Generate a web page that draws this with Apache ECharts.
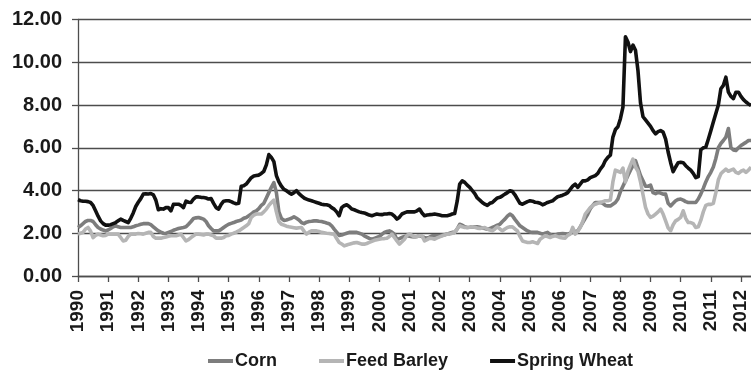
<!DOCTYPE html>
<html>
<head>
<meta charset="utf-8">
<script src="https://cdn.jsdelivr.net/npm/echarts@6/dist/echarts.min.js"></script>
<style>
  html, body { margin: 0; padding: 0; background: #fff; }
  #chart { width: 751px; height: 375px; }
</style>
</head>
<body>
<div id="chart"></div>
<script>
// Monthly prices, January 1990 through May 2012 (one row per year)
const startYear = 1990;
const lastYear = 2012;
const monthsInLastYear = 5;

const corn = [
  2.27, 2.35, 2.45, 2.55, 2.60, 2.60, 2.55, 2.40, 2.27, 2.20, 2.15, 2.11,
  2.15, 2.22, 2.30, 2.35, 2.30, 2.27, 2.27, 2.27, 2.27, 2.27, 2.30, 2.35,
  2.38, 2.42, 2.45, 2.45, 2.45, 2.40, 2.30, 2.20, 2.11, 2.05, 2.00, 1.99,
  2.04, 2.08, 2.14, 2.18, 2.22, 2.25, 2.27, 2.30, 2.42, 2.55, 2.69, 2.72,
  2.74, 2.70, 2.66, 2.55, 2.35, 2.22, 2.11, 2.11, 2.11, 2.18, 2.27, 2.35,
  2.42, 2.46, 2.50, 2.55, 2.58, 2.62, 2.70, 2.74, 2.82, 2.90, 3.00, 3.05,
  3.15, 3.30, 3.40, 3.65, 3.90, 4.15, 4.37, 3.90, 3.00, 2.70, 2.60, 2.62,
  2.66, 2.70, 2.77, 2.70, 2.62, 2.50, 2.45, 2.52, 2.55, 2.56, 2.58, 2.58,
  2.56, 2.55, 2.52, 2.48, 2.45, 2.35, 2.19, 2.05, 1.90, 1.92, 1.96, 2.00,
  2.04, 2.04, 2.04, 2.04, 2.00, 1.96, 1.88, 1.82, 1.76, 1.72, 1.76, 1.80,
  1.85, 1.95, 2.04, 2.08, 2.11, 2.05, 1.96, 1.70, 1.75, 1.80, 1.85, 1.88,
  1.86, 1.84, 1.83, 1.85, 1.88, 1.84, 1.80, 1.77, 1.82, 1.88, 1.88, 1.88,
  1.88, 1.90, 1.93, 1.96, 2.00, 2.04, 2.04, 2.20, 2.42, 2.38, 2.30, 2.27,
  2.28, 2.30, 2.30, 2.30, 2.28, 2.25, 2.22, 2.19, 2.22, 2.27, 2.32, 2.38,
  2.42, 2.55, 2.66, 2.80, 2.90, 2.82, 2.65, 2.50, 2.35, 2.27, 2.19, 2.11,
  2.06, 2.04, 2.04, 2.04, 2.00, 1.96, 2.00, 2.04, 1.95, 1.88, 1.92, 1.96,
  1.98, 1.99, 1.98, 1.96, 2.00, 2.04, 2.08, 2.11, 2.30, 2.50, 2.70, 2.90,
  3.15, 3.30, 3.44, 3.44, 3.44, 3.40, 3.30, 3.28, 3.28, 3.36, 3.44, 3.60,
  3.95, 4.20, 4.45, 4.70, 4.95, 5.16, 5.40, 5.05, 4.70, 4.45, 4.20, 4.20,
  4.25, 3.90, 3.85, 3.91, 3.88, 3.83, 3.83, 3.40, 3.28, 3.40, 3.52, 3.58,
  3.60, 3.55, 3.48, 3.44, 3.44, 3.44, 3.44, 3.60, 3.83, 4.10, 4.40, 4.65,
  4.85, 5.10, 5.50, 6.00, 6.20, 6.34, 6.50, 6.90, 6.00, 5.90, 5.87, 6.00,
  6.10, 6.18, 6.25, 6.34, 6.34
];

const feedBarley = [
  1.96, 2.00, 2.04, 2.20, 2.27, 2.10, 1.80, 1.90, 1.96, 1.92, 1.88, 1.90,
  1.96, 1.96, 1.96, 1.96, 1.96, 1.80, 1.64, 1.67, 1.85, 1.96, 1.96, 1.96,
  1.99, 1.98, 1.96, 2.00, 2.04, 2.04, 1.85, 1.77, 1.77, 1.77, 1.80, 1.83,
  1.86, 1.88, 1.88, 1.88, 1.92, 1.96, 1.80, 1.64, 1.70, 1.80, 1.88, 1.96,
  1.96, 1.94, 1.92, 1.96, 1.96, 1.92, 1.88, 1.77, 1.77, 1.77, 1.80, 1.88,
  1.90, 1.96, 2.00, 2.05, 2.11, 2.19, 2.27, 2.35, 2.45, 2.74, 2.85, 2.90,
  2.90, 2.90, 3.00, 3.13, 3.30, 3.44, 3.55, 3.00, 2.55, 2.42, 2.38, 2.33,
  2.30, 2.28, 2.26, 2.24, 2.26, 2.27, 2.10, 1.96, 2.05, 2.11, 2.11, 2.11,
  2.08, 2.04, 2.02, 2.00, 1.99, 1.97, 1.96, 1.75, 1.57, 1.50, 1.41, 1.45,
  1.49, 1.52, 1.55, 1.57, 1.53, 1.49, 1.49, 1.52, 1.57, 1.62, 1.67, 1.70,
  1.72, 1.74, 1.75, 1.77, 1.85, 1.96, 1.80, 1.64, 1.49, 1.60, 1.72, 1.90,
  1.96, 1.90, 1.83, 1.85, 1.88, 1.88, 1.64, 1.70, 1.77, 1.75, 1.72, 1.78,
  1.83, 1.88, 1.92, 1.96, 1.96, 2.00, 2.04, 2.20, 2.35, 2.30, 2.27, 2.27,
  2.28, 2.30, 2.28, 2.24, 2.22, 2.25, 2.27, 2.20, 2.15, 2.11, 2.20, 2.30,
  2.20, 2.11, 2.20, 2.27, 2.30, 2.30, 2.20, 2.11, 1.85, 1.64, 1.60, 1.57,
  1.57, 1.60, 1.56, 1.52, 1.72, 1.80, 1.88, 1.84, 1.80, 1.85, 1.88, 1.84,
  1.80, 1.78, 1.77, 1.90, 1.96, 2.27, 1.96, 2.10, 2.27, 2.55, 2.90, 3.05,
  3.20, 3.30, 3.36, 3.40, 3.44, 3.48, 3.52, 3.52, 3.55, 4.40, 4.95, 4.90,
  4.85, 5.05, 4.40, 4.90, 5.20, 5.47, 5.10, 4.90, 4.40, 3.80, 3.21, 2.90,
  2.74, 2.80, 2.90, 3.00, 3.13, 2.90, 2.58, 2.25, 2.11, 2.40, 2.58, 2.65,
  2.74, 3.05, 2.70, 2.50, 2.50, 2.45, 2.27, 2.30, 2.60, 3.00, 3.30, 3.35,
  3.35, 3.40, 3.90, 4.50, 4.78, 4.90, 5.00, 4.90, 4.95, 5.00, 4.85, 4.80,
  4.90, 4.95, 4.85, 4.95, 5.10
];

const springWheat = [
  3.57, 3.52, 3.50, 3.50, 3.48, 3.44, 3.30, 3.05, 2.80, 2.58, 2.45, 2.38,
  2.38, 2.40, 2.45, 2.50, 2.58, 2.66, 2.60, 2.55, 2.50, 2.70, 2.95, 3.25,
  3.45, 3.62, 3.83, 3.85, 3.84, 3.86, 3.80, 3.55, 3.10, 3.15, 3.13, 3.20,
  3.20, 3.05, 3.35, 3.36, 3.36, 3.30, 3.20, 3.50, 3.45, 3.44, 3.60, 3.70,
  3.70, 3.68, 3.67, 3.65, 3.60, 3.62, 3.40, 3.20, 3.13, 3.35, 3.50, 3.52,
  3.52, 3.48, 3.42, 3.38, 3.40, 4.20, 4.22, 4.30, 4.45, 4.60, 4.68, 4.70,
  4.72, 4.80, 4.90, 5.20, 5.68, 5.55, 5.35, 4.70, 4.40, 4.20, 4.05, 3.99,
  3.90, 3.83, 3.90, 3.99, 3.85, 3.75, 3.65, 3.60, 3.55, 3.52, 3.48, 3.44,
  3.40, 3.36, 3.34, 3.33, 3.30, 3.20, 3.13, 3.00, 2.82, 3.20, 3.29, 3.33,
  3.25, 3.13, 3.10, 3.05, 3.00, 2.97, 2.95, 2.90, 2.85, 2.82, 2.86, 2.90,
  2.88, 2.87, 2.90, 2.90, 2.92, 2.90, 2.80, 2.66, 2.75, 2.90, 2.95, 3.00,
  3.00, 3.00, 3.00, 3.05, 3.13, 2.95, 2.82, 2.85, 2.87, 2.88, 2.90, 2.88,
  2.85, 2.82, 2.82, 2.82, 2.85, 2.90, 2.92, 3.50, 4.30, 4.45, 4.38, 4.25,
  4.15, 4.00, 3.85, 3.65, 3.55, 3.44, 3.36, 3.30, 3.40, 3.44, 3.55, 3.65,
  3.68, 3.75, 3.83, 3.90, 3.99, 3.95, 3.80, 3.60, 3.40, 3.36, 3.42, 3.48,
  3.52, 3.50, 3.45, 3.44, 3.40, 3.33, 3.38, 3.44, 3.48, 3.52, 3.62, 3.71,
  3.74, 3.78, 3.83, 3.90, 4.05, 4.20, 4.30, 4.15, 4.30, 4.45, 4.45, 4.50,
  4.60, 4.65, 4.70, 4.80, 5.00, 5.15, 5.40, 5.55, 5.65, 6.50, 6.85, 6.98,
  7.36, 7.90, 11.19, 10.95, 10.50, 10.80, 10.56, 9.60, 8.10, 7.45, 7.30, 7.15,
  7.00, 6.80, 6.65, 6.75, 6.80, 6.73, 6.40, 5.80, 5.30, 4.88, 5.10, 5.30,
  5.32, 5.30, 5.16, 5.05, 4.95, 4.80, 4.60, 4.65, 5.90, 6.00, 6.03, 6.40,
  6.80, 7.20, 7.60, 8.00, 8.76, 8.92, 9.30, 8.60, 8.40, 8.30, 8.60, 8.60,
  8.40, 8.25, 8.14, 8.05, 7.98
];

const seriesNames = ['Corn', 'Feed Barley', 'Spring Wheat'];
const seriesColors = ['#7d7d7d', '#b5b5b5', '#111111'];

// Month categories; only January carries a year label
const months = [];
for (let y = startYear; y <= lastYear; y++) {
  const n = y === lastYear ? monthsInLastYear : 12;
  for (let m = 1; m <= n; m++) months.push(y + '-' + (m < 10 ? '0' : '') + m);
}
const isJanuary = (i) => i % 12 === 0;

const FONT = '"Liberation Sans", Arial, sans-serif';

const chart = echarts.init(document.getElementById('chart'), null, { renderer: 'canvas' });

chart.setOption({
  animation: false,
  backgroundColor: '#ffffff',
  grid: { left: 78, right: 0, top: 19.5, bottom: 99, containLabel: false },
  legend: {
    data: seriesNames,
    left: 203,
    top: 347,
    icon: 'rect',
    itemWidth: 25,
    itemHeight: 4,
    itemGap: 42,
    textStyle: { fontFamily: FONT, fontWeight: 'bold', fontSize: 18, color: '#1a1a1a', padding: [0, 0, 0, -3] }
  },
  xAxis: {
    type: 'category',
    data: months,
    boundaryGap: false,
    axisLine: { lineStyle: { color: '#4d4d4d', width: 1.3 } },
    axisTick: { interval: isJanuary, length: 6, lineStyle: { color: '#4d4d4d', width: 1.3 } },
    axisLabel: {
      interval: isJanuary,
      rotate: 90,
      margin: 14,
      fontFamily: FONT,
      fontWeight: 'bold',
      fontSize: 19,
      color: '#1a1a1a',
      formatter: (v) => v.slice(0, 4)
    },
    splitLine: { show: false }
  },
  yAxis: {
    type: 'value',
    min: 0,
    max: 12,
    interval: 2,
    axisLine: { show: true, lineStyle: { color: '#4d4d4d', width: 1.3 } },
    axisTick: { show: true, length: 6, lineStyle: { color: '#4d4d4d', width: 1.3 } },
    axisLabel: {
      margin: 16,
      fontFamily: FONT,
      fontWeight: 'bold',
      fontSize: 20,
      color: '#1a1a1a',
      formatter: (v) => v.toFixed(2)
    },
    splitLine: { lineStyle: { color: '#4d4d4d', width: 1.3 } }
  },
  series: [corn, feedBarley, springWheat].map((data, i) => ({
    name: seriesNames[i],
    type: 'line',
    data: data,
    showSymbol: false,
    symbol: 'none',
    smooth: false,
    color: seriesColors[i],
    lineStyle: { color: seriesColors[i], width: 3.6, join: 'round' }
  }))
});
</script>
</body>
</html>
